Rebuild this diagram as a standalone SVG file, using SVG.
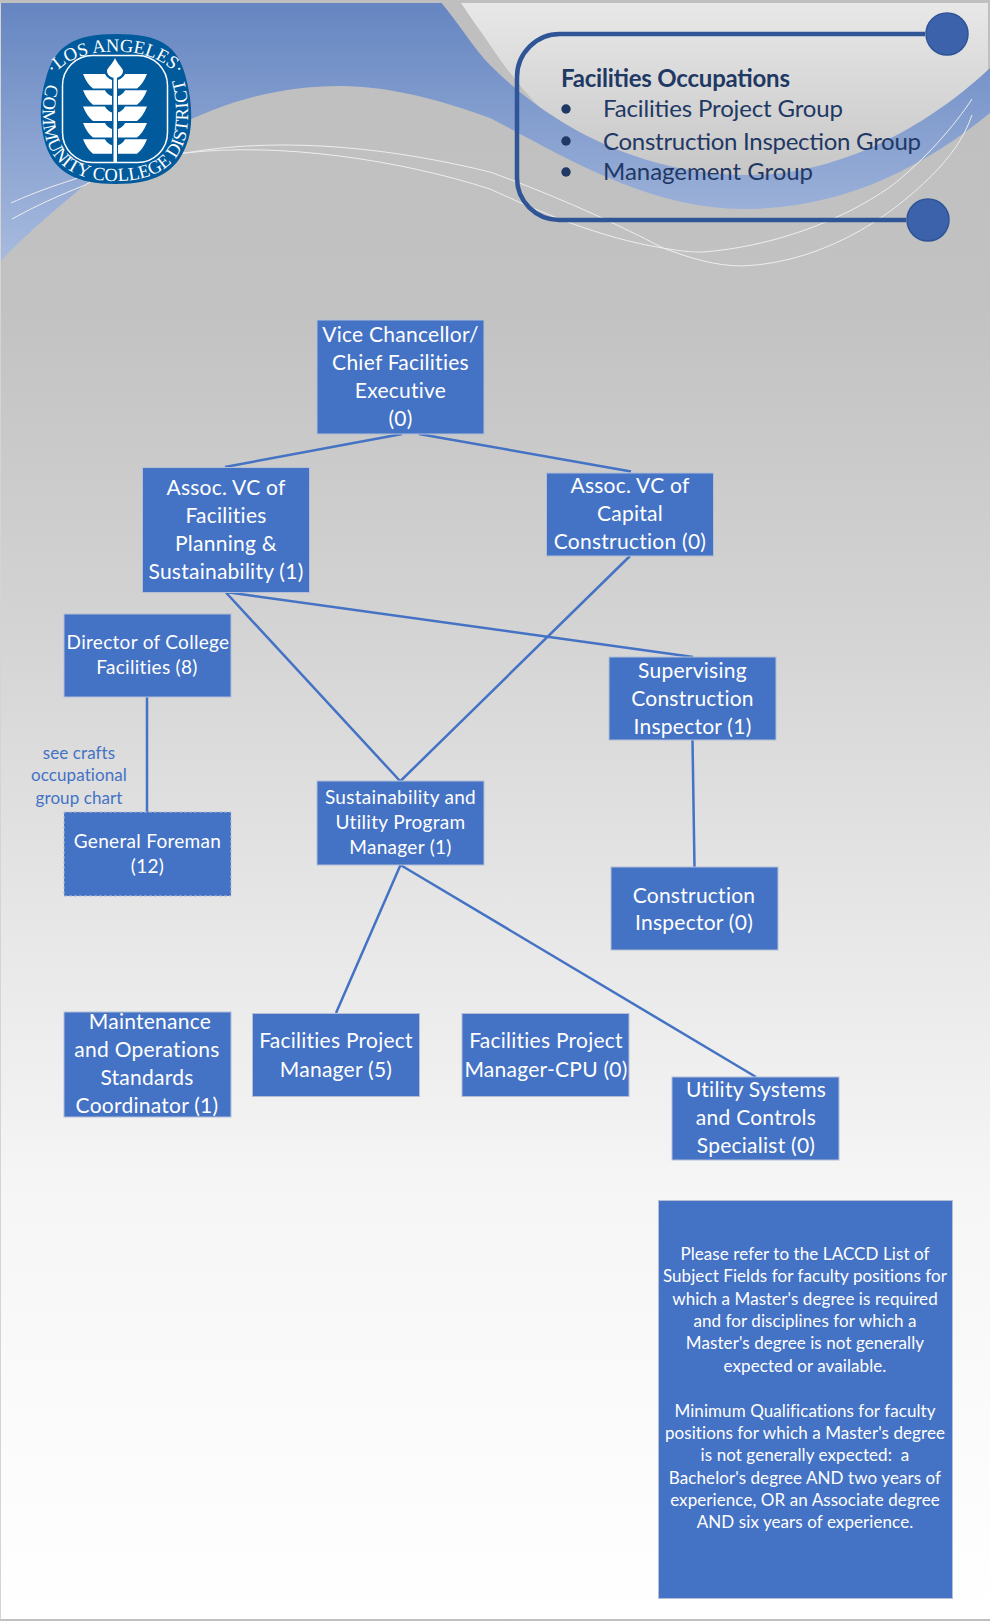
<svg xmlns="http://www.w3.org/2000/svg" width="990" height="1621" viewBox="0 0 990 1621">
<style>
.n{fill:#4472c4;stroke:#b4bfd6;stroke-width:1}
.t{font-family:"Lato","Carlito","Open Sans",sans-serif;fill:#fff;text-anchor:middle}
.a{font-size:21px;letter-spacing:.25px}.b{font-size:19px;letter-spacing:.3px}.c{font-size:17px;letter-spacing:.08px}
.w{fill:none;stroke:#eee;stroke-width:1}
.k{stroke:#4472c4;stroke-width:2.500;fill:none}
.h{font-family:"Lato","Open Sans",sans-serif;fill:#1f3864;font-size:24px}
.l{font-family:"Liberation Serif",serif;fill:#fff}
.f{fill:#fff}
</style>
<defs>
<linearGradient id="bg" x1="0" y1="0" x2="0" y2="1621" gradientUnits="userSpaceOnUse"><stop offset="0" stop-color="#bfbfbf"/><stop offset=".19" stop-color="#c2c2c2"/><stop offset=".37" stop-color="#d2d2d2"/><stop offset=".56" stop-color="#e6e6e6"/><stop offset=".74" stop-color="#f6f6f6"/><stop offset="1" stop-color="#fff"/></linearGradient>
<linearGradient id="bl" x1="0" y1="0" x2="0" y2="262" gradientUnits="userSpaceOnUse"><stop offset="0" stop-color="#6585c1"/><stop offset="1" stop-color="#a8bbde"/></linearGradient>
<linearGradient id="li" x1="0" y1="3" x2="0" y2="200" gradientUnits="userSpaceOnUse"><stop offset="0" stop-color="#e8e8e8"/><stop offset="1" stop-color="#c2c2c2"/></linearGradient>
<path id="lf" d="M83 74L105 74Q107 78 112 80L112 88.500L93 88.500Q87 84 83 74Z"/>
<path id="ptop" d="M46 96C50 66 78 51.500 115 51.500C152 51.500 180 66 186 96"/>
<path id="pbot" d="M58 54C42 85 41 115 44 130C50 165 75 181 116 181C155 181 182 165 187 130C190 110 188 75 170 50"/>
</defs>
<rect width="990" height="1621" fill="url(#bg)"/>
<g id="background">
<path d="M461 3L988 3L988 70C930 125 840 176 750 176L620 170C570 140 530 105 490 45C480 30 470 17 461 3Z" fill="url(#li)"/>
<path d="M0 0L439 0C460 25 475 50 490 65C550 125 640 175 750 175C840 175 930 125 990 68L990 113C920 170 840 209 743 209C650 209 570 160 490 118C440 100 390 86 340 86C250 86 170 120 87 183C55 210 25 235 0 262Z" fill="url(#bl)"/>
<rect width="990" height="3" fill="#bfbfbf"/>
<rect y="3" width="1" height="1618" fill="#d4d4d4"/>
<rect y="1619" width="990" height="2" fill="#c0c0c0"/>
<path class="w" d="M11 203C40 190 60 184 72 180C110 165 150 155 185 153C290 135 400 150 490 172C540 190 600 215 663 248C690 258 715 266 743 266C830 262 900 210 940 167C955 150 965 135 972 115"/>
<path class="w" d="M12 219C35 206 60 195 85 185C120 165 150 156 185 153C280 142 400 160 490 189C540 212 600 238 663 248C685 252 695 252 703 252C770 247 840 222 890 187C925 160 955 125 972 99"/>
</g>
<g id="logo">
<path d="M116 34C160 34 178 45 186 78C193 105 193 130 186 146C176 172 155 184 116 184C76 184 55 172 46 146C39 125 39 100 46 78C55 45 75 34 116 34Z" fill="#005a9c"/>
<rect x="62.500" y="55.500" width="105" height="107" rx="30" fill="none" stroke="#fff" stroke-width="1.500"/>
<rect x="113.500" y="74" width="3.500" height="88" class="f"/>
<path class="f" d="M115 58C118 65 123 68 123 71C123 75 119 78 115 78C111 78 107 75 107 71C107 68 112 65 115 58Z"/>
<use href="#lf" class="f"/><use href="#lf" class="f" y="16.300"/><use href="#lf" class="f" y="32.600"/><use href="#lf" class="f" y="48.900"/><use href="#lf" class="f" y="65.200"/>
<g class="f" transform="matrix(-1 0 0 1 230 0)"><use href="#lf"/><use href="#lf" y="16.300"/><use href="#lf" y="32.600"/><use href="#lf" y="48.900"/><use href="#lf" y="65.200"/></g>
<text class="l" font-size="18.500" text-anchor="middle"><textPath href="#ptop" startOffset="50%">·LOS ANGELES·</textPath></text>
<text class="l" font-size="18.500" text-anchor="middle"><textPath href="#pbot" startOffset="50%">COMMUNITY COLLEGE DISTRICT</textPath></text>
</g>
<g id="legend">
<path d="M925 34L560 34A43 43 0 0 0 517 77L517 178A42 42 0 0 0 559 220L906 220" fill="none" stroke="#2f5597" stroke-width="4.500"/>
<circle cx="947" cy="34" r="21" fill="#3b62aa" stroke="#2f5597" stroke-width="1.500"/>
<circle cx="928" cy="220" r="21" fill="#3b62aa" stroke="#2f5597" stroke-width="1.500"/>
<text class="h" x="561" y="87" font-weight="700" font-size="22" textLength="229">Facilities Occupations</text>
<circle cx="566" cy="109" r="4.700" fill="#1f3864"/><circle cx="566" cy="141" r="4.700" fill="#1f3864"/><circle cx="566" cy="172" r="4.700" fill="#1f3864"/>
<text class="h" x="603" y="117" textLength="240">Facilities Project Group</text>
<text class="h" x="603" y="150" textLength="318">Construction Inspection Group</text>
<text class="h" x="603" y="180" textLength="210">Management Group</text>
</g>
<g id="connectors">
<path class="k" d="M402 434L225 467M419 434L631 471.500M225.500 592L400 781M630 556L400.500 781M226 592L693 657M147 697L147 812M692.500 740L694.500 867M400.500 865L336 1013M400.500 865L756 1077"/>
</g>
<g id="n-vice"><rect class="n" x="317" y="320" width="167" height="114"/><text class="t a"><tspan x="400.500" y="342">Vice Chancellor/</tspan><tspan x="400.500" y="370">Chief Facilities</tspan><tspan x="400.500" y="398">Executive</tspan><tspan x="400.500" y="426">(0)</tspan></text></g>
<g id="n-assoc-fac"><rect class="n" x="142.500" y="467.500" width="167" height="125"/><text class="t a"><tspan x="226" y="495">Assoc. VC of</tspan><tspan x="226" y="523">Facilities</tspan><tspan x="226" y="551">Planning &amp;</tspan><tspan x="226" y="579">Sustainability (1)</tspan></text></g>
<g id="n-assoc-cap"><rect class="n" x="546.500" y="473" width="167" height="83"/><text class="t a"><tspan x="630" y="493">Assoc. VC of</tspan><tspan x="630" y="521">Capital</tspan><tspan x="630" y="549">Construction (0)</tspan></text></g>
<g id="n-director"><rect class="n" x="64" y="614" width="167" height="83"/><text class="t b"><tspan x="148" y="649">Director of College</tspan><tspan x="147" y="674">Facilities (8)</tspan></text></g>
<g id="n-foreman"><rect class="n" x="64" y="812" width="167" height="84" stroke-dasharray="3 2"/><text class="t b"><tspan x="147.500" y="848">General Foreman</tspan><tspan x="147.500" y="873">(12)</tspan></text></g>
<text id="crafts-note" class="t c" style="fill:#4472c4"><tspan x="79" y="759">see crafts</tspan><tspan x="79" y="781">occupational</tspan><tspan x="79" y="804">group chart</tspan></text>
<g id="n-sustain"><rect class="n" x="317" y="781" width="167" height="84"/><text class="t b"><tspan x="400.500" y="804">Sustainability and</tspan><tspan x="400.500" y="829">Utility Program</tspan><tspan x="400.500" y="854">Manager (1)</tspan></text></g>
<g id="n-super"><rect class="n" x="609" y="657" width="167" height="83"/><text class="t a"><tspan x="692.500" y="678">Supervising</tspan><tspan x="692.500" y="706">Construction</tspan><tspan x="692.500" y="734">Inspector (1)</tspan></text></g>
<g id="n-constr"><rect class="n" x="611" y="867" width="167" height="83"/><text class="t a"><tspan x="694" y="903">Construction</tspan><tspan x="694" y="930">Inspector (0)</tspan></text></g>
<g id="n-maint"><rect class="n" x="64" y="1012" width="167" height="105"/><text class="t a"><tspan x="150" y="1029">Maintenance</tspan><tspan x="147" y="1057">and Operations</tspan><tspan x="147" y="1085">Standards</tspan><tspan x="147" y="1113">Coordinator (1)</tspan></text></g>
<g id="n-fpm"><rect class="n" x="252.500" y="1013.500" width="167" height="83"/><text class="t a"><tspan x="336" y="1048">Facilities Project</tspan><tspan x="336" y="1077">Manager (5)</tspan></text></g>
<g id="n-cpu"><rect class="n" x="462" y="1013.500" width="167" height="83"/><text class="t a"><tspan x="546" y="1048">Facilities Project</tspan><tspan x="546" y="1077">Manager-CPU (0)</tspan></text></g>
<g id="n-utility"><rect class="n" x="672" y="1077" width="167" height="83"/><text class="t a"><tspan x="756" y="1097">Utility Systems</tspan><tspan x="756" y="1125">and Controls</tspan><tspan x="756" y="1153">Specialist (0)</tspan></text></g>
<g id="n-note"><rect class="n" x="658.500" y="1200.500" width="294" height="398"/><text class="t c"><tspan x="805" y="1260">Please refer to the LACCD List of</tspan><tspan x="805" y="1282">Subject Fields for faculty positions for</tspan><tspan x="805" y="1305">which a Master's degree is required</tspan><tspan x="805" y="1327">and for disciplines for which a</tspan><tspan x="805" y="1349">Master's degree is not generally</tspan><tspan x="805" y="1372">expected or available.</tspan><tspan x="805" y="1417">Minimum Qualifications for faculty</tspan><tspan x="805" y="1439">positions for which a Master's degree</tspan><tspan x="805" y="1461" xml:space="preserve">is not generally expected:  a</tspan><tspan x="805" y="1484">Bachelor's degree AND two years of</tspan><tspan x="805" y="1506">experience, OR an Associate degree</tspan><tspan x="805" y="1528">AND six years of experience.</tspan></text></g>
</svg>
